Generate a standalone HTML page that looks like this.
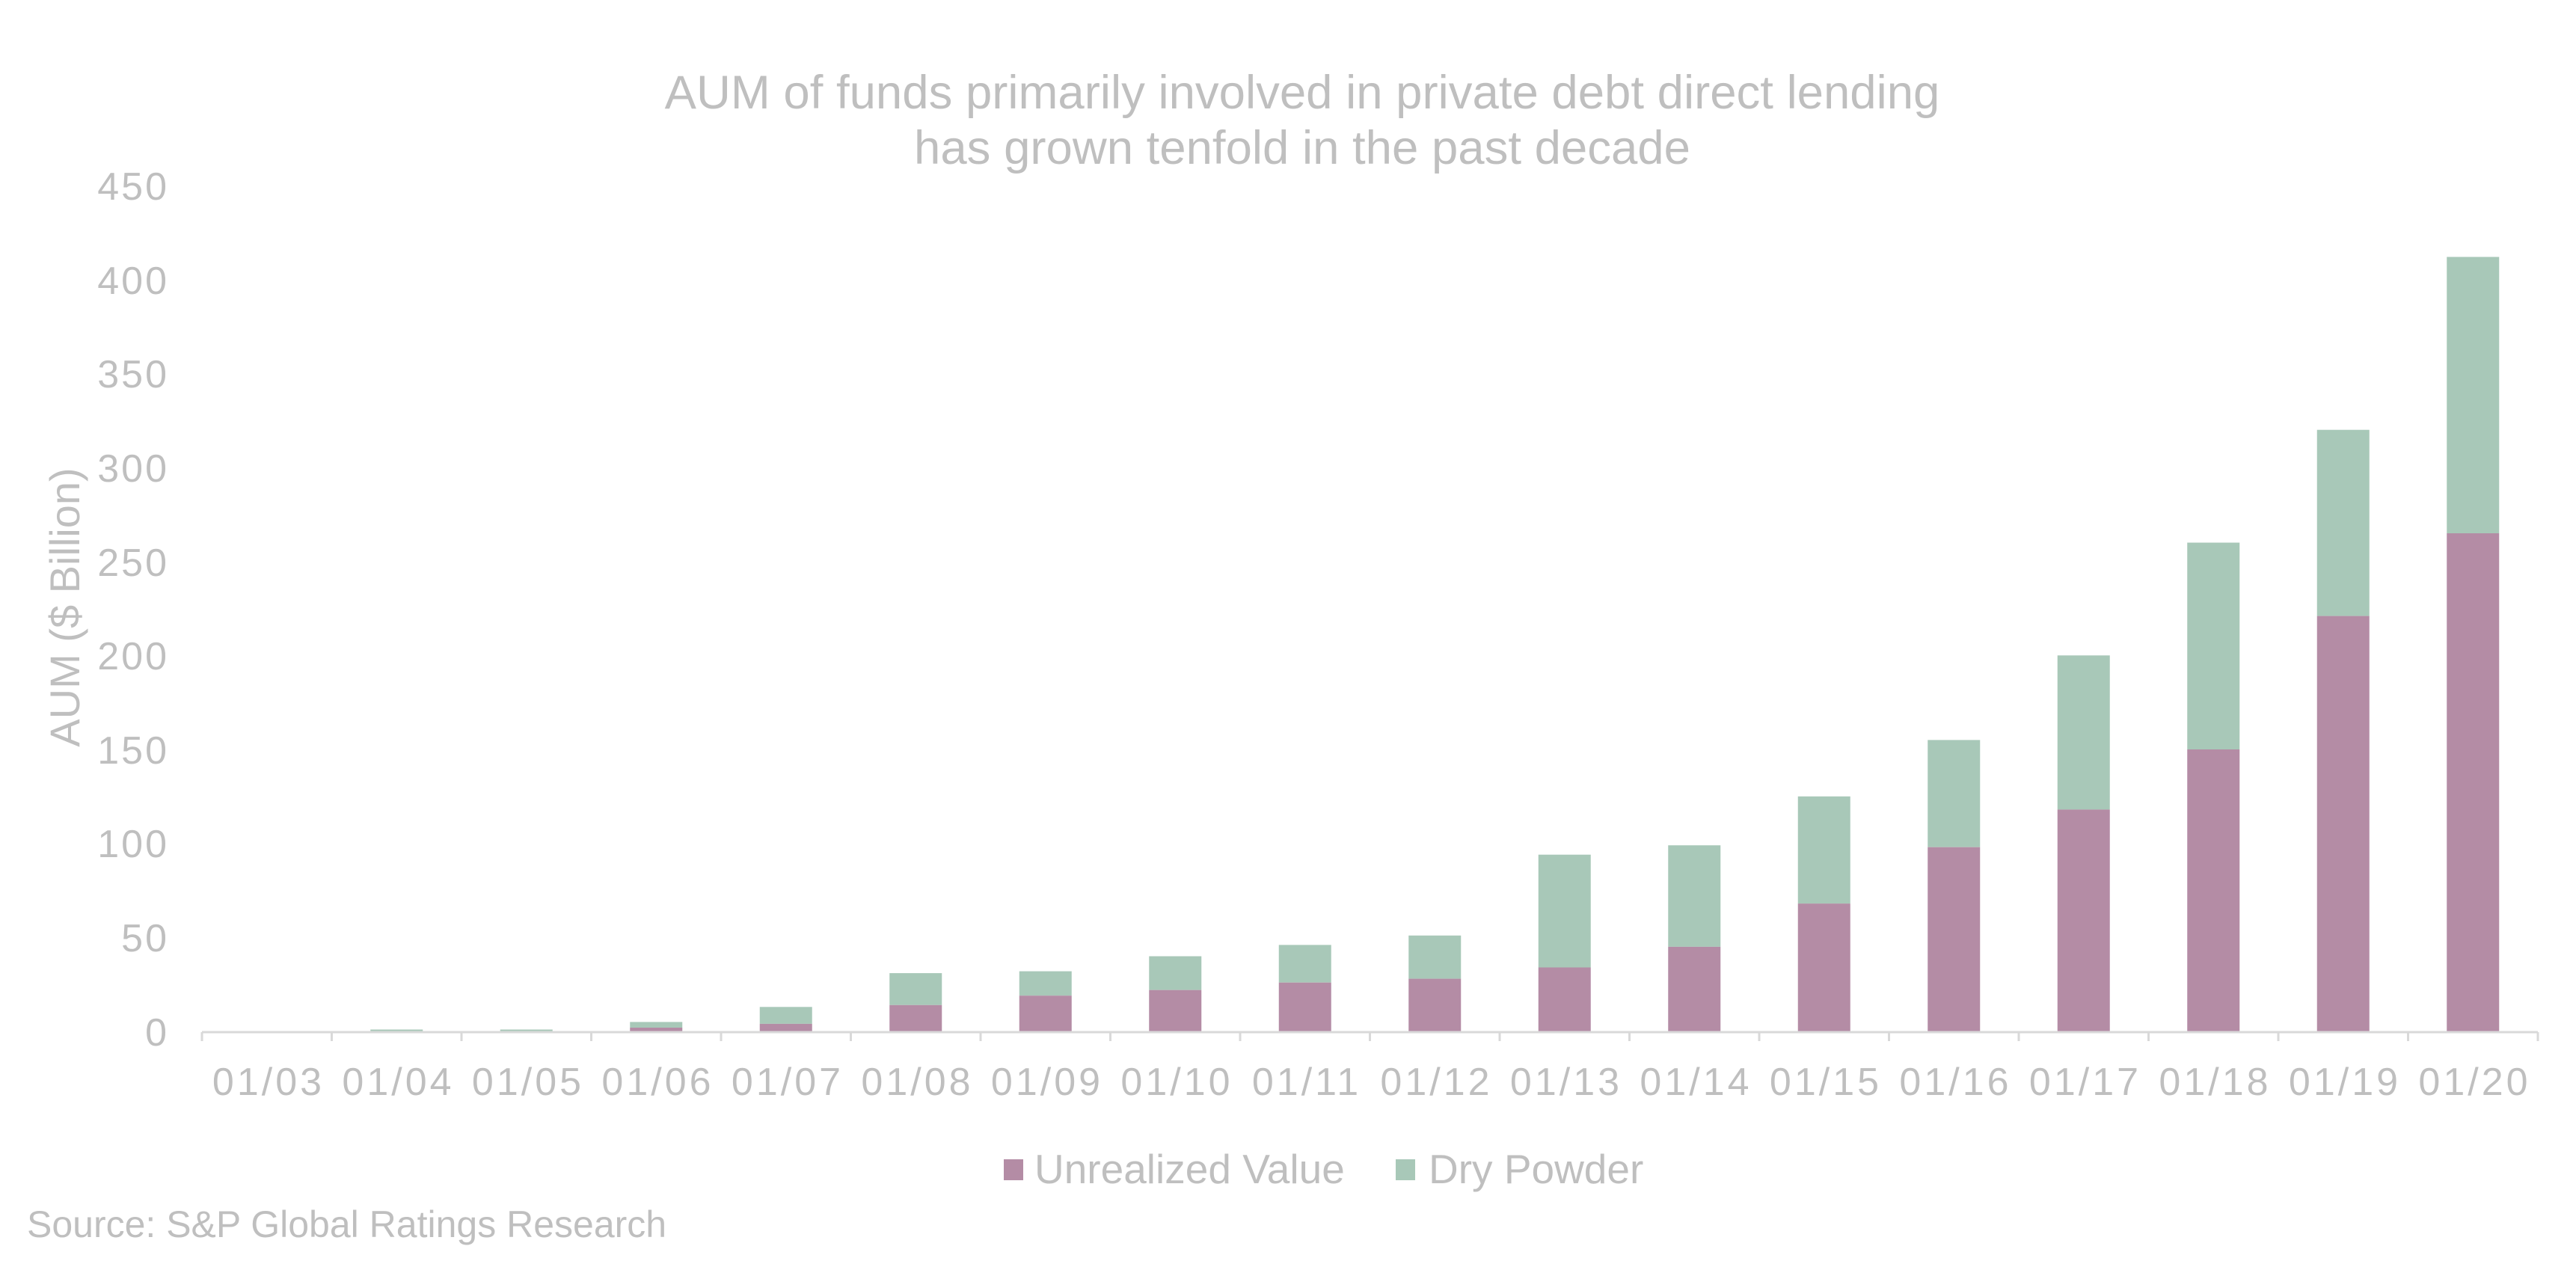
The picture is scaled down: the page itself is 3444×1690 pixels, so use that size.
<!DOCTYPE html>
<html><head><meta charset="utf-8"><style>
html,body{margin:0;padding:0;background:#fff;}
svg{display:block;}
text{font-family:"Liberation Sans",Arial,sans-serif;fill:#bfbfbf;}
</style></head><body>
<svg width="3444" height="1690" viewBox="0 0 3444 1690" xmlns="http://www.w3.org/2000/svg">
<text x="1741" y="145" font-size="63.5" text-anchor="middle">AUM of funds primarily involved in private debt direct lending</text>
<text x="1741" y="219" font-size="63.5" text-anchor="middle">has grown tenfold in the past decade</text>
<g font-size="52" letter-spacing="3" text-anchor="end">
<text x="226" y="1398">0</text>
<text x="226" y="1272">50</text>
<text x="226" y="1146">100</text>
<text x="226" y="1021">150</text>
<text x="226" y="895">200</text>
<text x="226" y="770">250</text>
<text x="226" y="644">300</text>
<text x="226" y="518">350</text>
<text x="226" y="393">400</text>
<text x="226" y="267">450</text>
</g>
<text transform="translate(106,812) rotate(-90)" font-size="56" text-anchor="middle">AUM ($ Billion)</text>
<g fill="#a8c8b8">
<rect x="495.25" y="1376.5" width="70" height="2.5"/>
<rect x="668.75" y="1376.5" width="70" height="2.5"/>
<rect x="842.25" y="1366.4" width="70" height="7.6"/>
<rect x="1015.75" y="1346.3" width="70" height="22.6"/>
<rect x="1189.25" y="1301.1" width="70" height="42.7"/>
<rect x="1362.75" y="1298.6" width="70" height="32.6"/>
<rect x="1536.25" y="1278.5" width="70" height="45.2"/>
<rect x="1709.75" y="1263.4" width="70" height="50.3"/>
<rect x="1883.25" y="1250.8" width="70" height="57.8"/>
<rect x="2056.75" y="1142.7" width="70" height="150.8"/>
<rect x="2230.25" y="1130.2" width="70" height="135.7"/>
<rect x="2403.75" y="1064.8" width="70" height="143.3"/>
<rect x="2577.25" y="989.4" width="70" height="143.3"/>
<rect x="2750.75" y="876.3" width="70" height="206.1"/>
<rect x="2924.25" y="725.5" width="70" height="276.5"/>
<rect x="3097.75" y="574.7" width="70" height="248.9"/>
<rect x="3271.25" y="343.5" width="70" height="369.5"/>
</g>
<g fill="#b48ca5">
<rect x="842.25" y="1374" width="70" height="5"/>
<rect x="1015.75" y="1368.9" width="70" height="10.1"/>
<rect x="1189.25" y="1343.8" width="70" height="35.2"/>
<rect x="1362.75" y="1331.2" width="70" height="47.8"/>
<rect x="1536.25" y="1323.7" width="70" height="55.3"/>
<rect x="1709.75" y="1313.7" width="70" height="65.3"/>
<rect x="1883.25" y="1308.6" width="70" height="70.4"/>
<rect x="2056.75" y="1293.5" width="70" height="85.5"/>
<rect x="2230.25" y="1265.9" width="70" height="113.1"/>
<rect x="2403.75" y="1208.1" width="70" height="170.9"/>
<rect x="2577.25" y="1132.7" width="70" height="246.3"/>
<rect x="2750.75" y="1082.4" width="70" height="296.6"/>
<rect x="2924.25" y="1002" width="70" height="377"/>
<rect x="3097.75" y="823.6" width="70" height="555.4"/>
<rect x="3271.25" y="713" width="70" height="666"/>
</g>
<g stroke="#d9d9d9" stroke-width="3">
<line x1="270" y1="1380" x2="3393" y2="1380"/>
<path d="M270 1380v12M443.5 1380v12M617 1380v12M790.5 1380v12M964 1380v12M1137.5 1380v12M1311 1380v12M1484.5 1380v12M1658 1380v12M1831.5 1380v12M2005 1380v12M2178.5 1380v12M2352 1380v12M2525.5 1380v12M2699 1380v12M2872.5 1380v12M3046 1380v12M3219.5 1380v12M3393 1380v12"/>
</g>
<g font-size="52" letter-spacing="4" text-anchor="middle">
<text x="359" y="1464">01/03</text>
<text x="532.5" y="1464">01/04</text>
<text x="706" y="1464">01/05</text>
<text x="879.5" y="1464">01/06</text>
<text x="1053" y="1464">01/07</text>
<text x="1226.5" y="1464">01/08</text>
<text x="1400" y="1464">01/09</text>
<text x="1573.5" y="1464">01/10</text>
<text x="1747" y="1464">01/11</text>
<text x="1920.5" y="1464">01/12</text>
<text x="2094" y="1464">01/13</text>
<text x="2267.5" y="1464">01/14</text>
<text x="2441" y="1464">01/15</text>
<text x="2614.5" y="1464">01/16</text>
<text x="2788" y="1464">01/17</text>
<text x="2961.5" y="1464">01/18</text>
<text x="3135" y="1464">01/19</text>
<text x="3308.5" y="1464">01/20</text>
</g>
<rect x="1342" y="1550" width="26" height="28" fill="#b48ca5"/>
<text x="1383" y="1582" font-size="55">Unrealized Value</text>
<rect x="1866" y="1550" width="26" height="28" fill="#a8c8b8"/>
<text x="1910" y="1582" font-size="55">Dry Powder</text>
<text x="36" y="1654" font-size="50">Source: S&amp;P Global Ratings Research</text>
</svg>
</body></html>
